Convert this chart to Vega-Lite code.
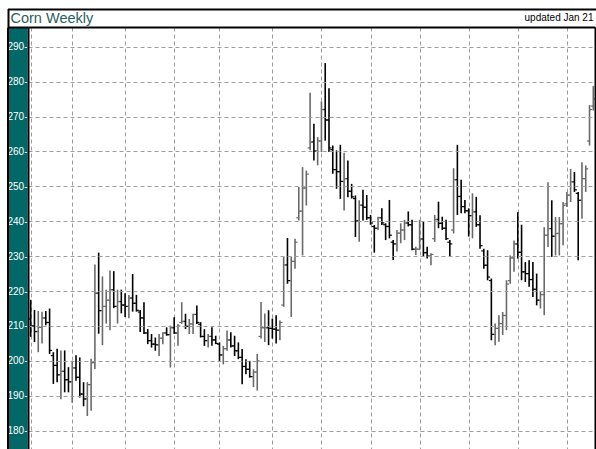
{
 "$schema": "https://vega.github.io/schema/vega-lite/v6.json",
 "width": 567,
 "height": 422,
 "autosize": {"type": "none"},
 "padding": {"left": 28, "top": 27, "right": 1, "bottom": 0},
 "background": "white",
 "config": {"view": {"stroke": null}, "font": "Liberation Sans"},
 "data": {"values": [
  {"i":1,"o":212.0,"h":217.5,"l":206.9,"c":210.0},
  {"i":2,"o":210.0,"h":214.6,"l":205.4,"c":208.4},
  {"i":3,"o":208.4,"h":214.3,"l":202.5,"c":209.6},
  {"i":4,"o":209.6,"h":214.1,"l":205.0,"c":212.3},
  {"i":5,"o":212.3,"h":214.3,"l":210.2,"c":211.0},
  {"i":6,"o":211.0,"h":215.0,"l":202.0,"c":203.0},
  {"i":7,"o":201.5,"h":202.5,"l":193.4,"c":198.7},
  {"i":8,"o":198.7,"h":203.5,"l":193.9,"c":196.0},
  {"i":9,"o":196.0,"h":203.0,"l":189.0,"c":197.0},
  {"i":10,"o":197.0,"h":203.0,"l":191.0,"c":194.6},
  {"i":11,"o":194.6,"h":198.2,"l":191.0,"c":194.0},
  {"i":12,"o":194.0,"h":200.0,"l":188.0,"c":198.0},
  {"i":13,"o":198.0,"h":201.6,"l":194.3,"c":195.3},
  {"i":14,"o":195.3,"h":201.0,"l":189.5,"c":190.5},
  {"i":15,"o":190.5,"h":193.9,"l":187.0,"c":189.1},
  {"i":16,"o":189.1,"h":193.9,"l":184.2,"c":193.2},
  {"i":17,"o":193.2,"h":200.6,"l":185.7,"c":199.5},
  {"i":18,"o":199.5,"h":227.6,"l":197.7,"c":219.4},
  {"i":19,"o":219.4,"h":231.0,"l":207.8,"c":214.4},
  {"i":20,"o":214.4,"h":224.2,"l":204.5,"c":215.6},
  {"i":21,"o":215.6,"h":220.4,"l":210.7,"c":217.4},
  {"i":22,"o":217.4,"h":225.9,"l":208.8,"c":220.4},
  {"i":23,"o":220.4,"h":225.7,"l":215.1,"c":215.6},
  {"i":24,"o":215.6,"h":220.4,"l":210.7,"c":217.0},
  {"i":25,"o":217.0,"h":220.4,"l":213.6,"c":216.0},
  {"i":26,"o":216.0,"h":219.4,"l":212.6,"c":215.6},
  {"i":27,"o":215.6,"h":218.9,"l":212.2,"c":218.0},
  {"i":28,"o":218.0,"h":224.9,"l":214.1,"c":216.5},
  {"i":29,"o":216.5,"h":218.9,"l":214.1,"c":214.5},
  {"i":30,"o":214.0,"h":214.6,"l":208.3,"c":212.3},
  {"i":31,"o":212.3,"h":216.8,"l":207.7,"c":208.0},
  {"i":32,"o":208.0,"h":209.1,"l":204.8,"c":205.8},
  {"i":33,"o":205.8,"h":207.7,"l":203.8,"c":204.8},
  {"i":34,"o":204.8,"h":206.7,"l":202.9,"c":204.6},
  {"i":35,"o":204.6,"h":207.7,"l":201.4,"c":206.5},
  {"i":36,"o":206.5,"h":208.2,"l":204.8,"c":208.0},
  {"i":37,"o":208.0,"h":209.6,"l":207.2,"c":207.5},
  {"i":38,"o":207.5,"h":210.1,"l":198.1,"c":209.5},
  {"i":39,"o":209.5,"h":212.5,"l":207.7,"c":208.0},
  {"i":40,"o":208.0,"h":210.6,"l":204.3,"c":210.0},
  {"i":41,"o":211.0,"h":216.8,"l":210.6,"c":211.3},
  {"i":42,"o":211.3,"h":213.5,"l":209.1,"c":209.9},
  {"i":43,"o":209.9,"h":212.0,"l":207.7,"c":210.6},
  {"i":44,"o":210.6,"h":213.5,"l":207.7,"c":213.3},
  {"i":45,"o":213.3,"h":215.9,"l":210.6,"c":211.0},
  {"i":46,"o":210.5,"h":211.1,"l":206.7,"c":207.0},
  {"i":47,"o":207.0,"h":209.1,"l":204.3,"c":205.8},
  {"i":48,"o":205.8,"h":207.7,"l":203.8,"c":207.0},
  {"i":49,"o":207.0,"h":209.6,"l":204.3,"c":206.0},
  {"i":50,"o":206.0,"h":207.2,"l":204.8,"c":205.0},
  {"i":51,"o":204.8,"h":205.3,"l":200.0,"c":201.7},
  {"i":52,"o":201.7,"h":204.3,"l":199.0,"c":203.5},
  {"i":53,"o":203.5,"h":208.7,"l":202.9,"c":206.0},
  {"i":54,"o":206.0,"h":208.2,"l":203.8,"c":204.3},
  {"i":55,"o":204.3,"h":207.2,"l":201.4,"c":202.9},
  {"i":56,"o":202.9,"h":205.3,"l":200.5,"c":201.0},
  {"i":57,"o":201.0,"h":203.4,"l":193.3,"c":198.4},
  {"i":58,"o":198.4,"h":200.5,"l":196.2,"c":197.6},
  {"i":59,"o":197.6,"h":200.0,"l":195.2,"c":195.5},
  {"i":60,"o":195.5,"h":197.6,"l":192.5,"c":196.8},
  {"i":61,"o":196.8,"h":202.0,"l":191.5,"c":200.0},
  {"i":62,"o":207.0,"h":216.9,"l":206.4,"c":209.5},
  {"i":63,"o":209.5,"h":213.6,"l":205.4,"c":209.5},
  {"i":64,"o":209.5,"h":214.5,"l":204.5,"c":209.3},
  {"i":65,"o":209.3,"h":212.1,"l":206.4,"c":209.1},
  {"i":66,"o":209.1,"h":213.1,"l":205.0,"c":208.8},
  {"i":67,"o":208.8,"h":211.6,"l":205.9,"c":211.0},
  {"i":68,"o":216.0,"h":229.8,"l":215.5,"c":227.5},
  {"i":69,"o":227.5,"h":235.2,"l":222.1,"c":223.0},
  {"i":70,"o":223.0,"h":229.8,"l":212.6,"c":228.5},
  {"i":71,"o":228.5,"h":235.0,"l":226.4,"c":234.0},
  {"i":72,"o":241.0,"h":249.8,"l":240.2,"c":242.9},
  {"i":73,"o":242.9,"h":255.5,"l":230.2,"c":249.5},
  {"i":74,"o":249.5,"h":254.5,"l":244.5,"c":253.5},
  {"i":75,"o":261.0,"h":276.8,"l":260.3,"c":262.7},
  {"i":76,"o":262.7,"h":267.9,"l":257.4,"c":260.1},
  {"i":77,"o":260.1,"h":264.1,"l":256.0,"c":263.0},
  {"i":78,"o":263.0,"h":274.3,"l":259.8,"c":272.0},
  {"i":79,"o":272.0,"h":285.3,"l":263.1,"c":269.0},
  {"i":80,"o":269.0,"h":278.1,"l":259.8,"c":261.0},
  {"i":81,"o":260.5,"h":261.7,"l":253.6,"c":254.8},
  {"i":82,"o":254.8,"h":260.3,"l":249.3,"c":254.2},
  {"i":83,"o":254.2,"h":261.9,"l":246.4,"c":251.4},
  {"i":84,"o":251.4,"h":259.6,"l":243.1,"c":252.2},
  {"i":85,"o":252.2,"h":257.4,"l":246.9,"c":248.6},
  {"i":86,"o":248.6,"h":250.7,"l":246.5,"c":247.0},
  {"i":87,"o":246.5,"h":247.4,"l":235.5,"c":240.1},
  {"i":88,"o":240.1,"h":246.0,"l":234.1,"c":244.6},
  {"i":89,"o":244.6,"h":249.0,"l":240.2,"c":244.0},
  {"i":90,"o":244.0,"h":247.5,"l":240.4,"c":241.0},
  {"i":91,"o":241.0,"h":241.8,"l":239.0,"c":239.5},
  {"i":92,"o":238.5,"h":238.9,"l":231.0,"c":238.0},
  {"i":93,"o":238.0,"h":241.3,"l":237.5,"c":241.0},
  {"i":94,"o":241.0,"h":243.7,"l":238.9,"c":239.5},
  {"i":95,"o":239.0,"h":239.4,"l":234.6,"c":238.5},
  {"i":96,"o":238.5,"h":246.1,"l":235.1,"c":236.0},
  {"i":97,"o":234.0,"h":234.6,"l":228.9,"c":233.5},
  {"i":98,"o":233.5,"h":237.5,"l":231.3,"c":236.6},
  {"i":99,"o":236.6,"h":239.4,"l":233.7,"c":237.5},
  {"i":100,"o":237.5,"h":240.4,"l":234.6,"c":239.5},
  {"i":101,"o":239.5,"h":242.8,"l":238.5,"c":239.0},
  {"i":102,"o":239.0,"h":240.4,"l":231.7,"c":232.0},
  {"i":103,"o":232.0,"h":232.7,"l":230.3,"c":232.0},
  {"i":104,"o":232.0,"h":240.4,"l":231.7,"c":234.9},
  {"i":105,"o":234.9,"h":239.9,"l":229.8,"c":231.0},
  {"i":106,"o":231.0,"h":232.7,"l":229.3,"c":230.0},
  {"i":107,"o":230.0,"h":230.8,"l":227.4,"c":230.5},
  {"i":108,"o":235.0,"h":241.8,"l":234.1,"c":240.5},
  {"i":109,"o":240.5,"h":245.6,"l":238.0,"c":239.4},
  {"i":110,"o":239.4,"h":241.3,"l":237.5,"c":238.0},
  {"i":111,"o":238.0,"h":240.4,"l":234.6,"c":235.0},
  {"i":112,"o":234.0,"h":234.6,"l":230.0,"c":233.5},
  {"i":113,"o":237.5,"h":255.2,"l":236.5,"c":251.9},
  {"i":114,"o":251.9,"h":261.9,"l":241.8,"c":247.1},
  {"i":115,"o":247.1,"h":251.9,"l":242.3,"c":244.2},
  {"i":116,"o":244.2,"h":246.1,"l":242.3,"c":243.0},
  {"i":117,"o":243.0,"h":243.7,"l":235.6,"c":241.6},
  {"i":118,"o":241.6,"h":248.0,"l":235.1,"c":242.7},
  {"i":119,"o":242.7,"h":247.0,"l":238.4,"c":239.0},
  {"i":120,"o":239.0,"h":241.7,"l":232.1,"c":233.0},
  {"i":121,"o":231.5,"h":232.1,"l":226.4,"c":227.4},
  {"i":122,"o":227.4,"h":231.7,"l":223.1,"c":224.0},
  {"i":123,"o":223.0,"h":223.6,"l":205.9,"c":207.6},
  {"i":124,"o":207.6,"h":210.7,"l":204.5,"c":209.3},
  {"i":125,"o":209.3,"h":213.1,"l":205.5,"c":210.7},
  {"i":126,"o":210.7,"h":214.0,"l":207.4,"c":213.0},
  {"i":127,"o":213.0,"h":223.1,"l":208.8,"c":222.0},
  {"i":128,"o":223.0,"h":230.2,"l":222.1,"c":229.5},
  {"i":129,"o":229.5,"h":234.5,"l":225.5,"c":233.5},
  {"i":130,"o":233.5,"h":242.6,"l":229.3,"c":231.1},
  {"i":131,"o":231.1,"h":239.0,"l":223.1,"c":225.5},
  {"i":132,"o":225.5,"h":228.3,"l":222.6,"c":225.0},
  {"i":133,"o":225.0,"h":228.8,"l":221.2,"c":223.3},
  {"i":134,"o":223.3,"h":228.3,"l":218.3,"c":220.5},
  {"i":135,"o":220.5,"h":225.0,"l":215.9,"c":217.4},
  {"i":136,"o":217.4,"h":219.8,"l":215.0,"c":219.0},
  {"i":137,"o":219.0,"h":238.3,"l":213.1,"c":236.0},
  {"i":138,"o":236.0,"h":251.2,"l":232.6,"c":237.9},
  {"i":139,"o":237.9,"h":246.0,"l":229.8,"c":235.7},
  {"i":140,"o":235.7,"h":241.2,"l":230.2,"c":236.5},
  {"i":141,"o":236.5,"h":241.2,"l":230.2,"c":239.3},
  {"i":142,"o":239.3,"h":245.5,"l":233.1,"c":244.5},
  {"i":143,"o":245.0,"h":248.4,"l":244.1,"c":247.5},
  {"i":144,"o":247.5,"h":255.0,"l":245.5,"c":251.3},
  {"i":145,"o":251.3,"h":254.1,"l":248.4,"c":249.0},
  {"i":146,"o":248.0,"h":248.4,"l":228.8,"c":246.0},
  {"i":147,"o":246.0,"h":256.9,"l":240.7,"c":252.2},
  {"i":148,"o":252.2,"h":256.0,"l":248.4,"c":255.0},
  {"i":149,"o":263.0,"h":273.3,"l":261.7,"c":272.0},
  {"i":150,"o":273.0,"h":278.7,"l":271.7,"c":275.0}
 ]},
 "resolve": {"axis": {"x": "independent", "y": "independent"}},
 "layer": [
  {
   "mark": {"type": "rule", "strokeWidth": 1.6},
   "encoding": {
    "x": {"field": "i", "type": "quantitative",
      "scale": {"domain": [0.285, 150.45], "nice": false, "zero": false},
      "axis": {"orient": "bottom", "values": [1,12,26,39,51,65,78,91,104,117,130,143], "grid": true, "gridColor": "#9c9c9c", "gridDash": [4,3], "gridWidth": 1, "domain": false, "ticks": false, "labels": false, "title": null}},
    "y": {"field": "l", "type": "quantitative",
      "scale": {"domain": [174.76, 295.64], "nice": false, "zero": false},
      "axis": {"orient": "left", "offset": 10.5, "domain": true, "domainColor": "#016767", "domainWidth": 19, "ticks": false, "labels": false, "grid": false, "title": null, "zindex": 0}},
    "y2": {"field": "h"},
    "color": {"condition": {"test": "datum.c < datum.o", "value": "#000000"}, "value": "#6a6a6a"}
   }
  },
  {
   "mark": {"type": "rule", "strokeWidth": 1.2, "xOffset": -2.5, "x2Offset": 0},
   "encoding": {
    "x": {"field": "i", "type": "quantitative",
      "axis": {"orient": "top", "values": [0.285], "domain": true, "domainColor": "black", "domainWidth": 2, "ticks": true, "tickSize": 18.5, "tickOffset": -20.5, "tickColor": "black", "tickWidth": 2, "labels": false, "grid": false,
        "title": "Corn Weekly", "titleX": -18, "titleY": -5, "titleAlign": "left", "titleAnchor": "start", "titleBaseline": "alphabetic", "titleFontSize": 14.5, "titleFontWeight": "normal", "titleColor": "#2a5e5e", "titleFont": "Liberation Sans", "zindex": 2}},
    "x2": {"field": "i"},
    "y": {"field": "o", "type": "quantitative",
      "axis": {"orient": "left", "offset": 0, "values": [180,190,200,210,220,230,240,250,260,270,280,290,295.64],
        "domain": true, "domainColor": "black", "domainWidth": 2,
        "ticks": true, "tickSize": 20.5, "tickWidth": 2,
        "tickColor": {"condition": {"test": "datum.value > 295", "value": "black"}, "value": "transparent"},
        "labelPadding": -19.5, "labelExpr": "datum.value > 295 ? '' : datum.label + '-'",
        "labelColor": "white", "labelFontSize": 10, "labelFont": "Liberation Sans",
        "grid": true, "gridColor": {"condition": {"test": "datum.value > 295", "value": "transparent"}, "value": "#9c9c9c"}, "gridDash": [4,3], "gridWidth": 1,
        "title": null, "zindex": 1}},
    "color": {"condition": {"test": "datum.c < datum.o", "value": "#000000"}, "value": "#6a6a6a"}
   }
  },
  {
   "mark": {"type": "rule", "strokeWidth": 1.2, "xOffset": 0, "x2Offset": 2.5},
   "encoding": {
    "x": {"field": "i", "type": "quantitative",
      "axis": {"orient": "top", "values": [150.45], "domain": false, "ticks": true, "tickSize": -422, "tickColor": "black", "tickWidth": 2, "labels": false, "grid": false,
        "title": "updated Jan 21", "titleX": 565, "titleY": -6.3, "titleAlign": "right", "titleAnchor": "end", "titleBaseline": "alphabetic", "titleFontSize": 10, "titleFontWeight": "normal", "titleColor": "black", "titleFont": "Liberation Sans", "zindex": 2}},
    "x2": {"field": "i"},
    "y": {"field": "c", "type": "quantitative",
      "axis": {"orient": "left", "offset": 20.5, "values": [295.64], "domain": true, "domainColor": "black", "domainWidth": 2, "ticks": true, "tickSize": -589, "tickOffset": -18.5, "tickColor": "black", "tickWidth": 2, "labels": false, "grid": false, "title": null, "zindex": 2}},
    "color": {"condition": {"test": "datum.c < datum.o", "value": "#000000"}, "value": "#6a6a6a"}
   }
  }
 ]
}
